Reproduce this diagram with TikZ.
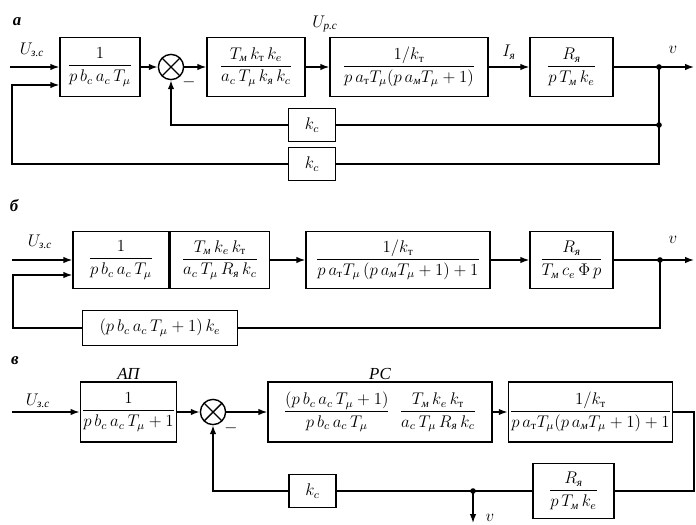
\documentclass[tikz,border=0pt]{standalone}
\usepackage{amsmath}
\usepackage{fontspec}
\newfontfamily\cyrfont{Liberation Serif}
\usetikzlibrary{arrows.meta,positioning}
\newcommand{\rus}[1]{\text{\cyrfont\itshape #1}}
\newcommand{\rut}{\text{\cyrfont т}}
\tikzset{
  blk/.style={draw,line width=1pt,minimum height=1.47cm,inner sep=1pt,font=\large},
  kbox/.style={draw,line width=1pt,minimum width=1.175cm,minimum height=0.82cm,
    inner sep=1pt,font=\large},
  sumc/.style={draw,circle,line width=1pt,minimum size=0.63cm,inner sep=0pt,
    path picture={\draw[line width=1pt]
      (path picture bounding box.north west)--(path picture bounding box.south east)
      (path picture bounding box.north east)--(path picture bounding box.south west);}},
  sig/.style={-{Latex[length=2.2mm,width=1.6mm]},line width=1pt},
  ln/.style={line width=1pt},
  lbl/.style={font=\large,inner sep=1pt},
  tag/.style={font=\large\bfseries,inner sep=1pt},
  dot/.style={circle,fill,inner sep=0pt,minimum size=4pt}
}
\begin{document}
\begin{tikzpicture}[x=0.025cm,y=-0.025cm]
  \useasboundingbox (0,0) rectangle (696,525);
  % a
  \node[tag] (ta) at (17,22) {\cyrfont\itshape а};
  \coordinate (ina) at (10,67);
  \node[blk,minimum width=2cm] (a1) at (100,67) {$\dfrac{1}{p\,b_c\,a_c\,T_\mu}$};
  \node[sumc] (sa) at (171,67) {};
  \node[blk,minimum width=2.45cm] (a2) at (256,67)
    {$\dfrac{T_{\rus{м}}\,k_{\rut}\,k_e}{a_c\,T_\mu\,k_{\rus{я}}\,k_c}$};
  \node[blk,minimum width=3.95cm] (a3) at (409,67)
    {$\dfrac{1/k_{\rut}}{p\,a_{\rut}T_\mu(p\,a_{\rus{м}}T_\mu+1)}$};
  \node[blk,minimum width=2.075cm] (a4) at (571.5,67)
    {$\dfrac{R_{\rus{я}}}{p\,T_{\rus{м}}\,k_e}$};
  \coordinate (va) at (659,67);
  \coordinate (outa) at (694,67);
  \node[kbox] (ka1) at (312,125) {$k_c$};
  \node[kbox] (ka2) at (312,164) {$k_c$};
  \coordinate (fa) at (12,85);
  \node[lbl] (ua) at (32,50) {$U_{\rus{з.с}}$};
  \node[lbl] (ura) at (325,24) {$U_{\rus{р.с}}$};
  \node[lbl] (ma) at (189,82) {$-$};
  \node[lbl] (oa) at (673,50) {$v$};
  \draw[sig] (ina) -- (a1);
  \draw[sig] (a1) -- (sa);
  \draw[sig] (sa) -- (a2);
  \draw[sig] (a2) -- (a3);
  \draw[sig] (a3) -- node[lbl,above=4pt]{$I_{\rus{я}}$} (a4);
  \draw[sig] (a4) -- (outa);
  \draw[ln] (va) |- (ka2);
  \draw[ln] (va |- ka1) -- (ka1);
  \draw[sig] (ka1) -| (sa.south);
  \draw[sig] (ka2) -| (fa) -- (fa -| a1.west);
  \node[dot] at (va) {};
  \node[dot] at (va |- ka1) {};
  % b
  \node[tag] (tb) at (14,206) {\cyrfont\itshape б};
  \coordinate (inb) at (12,260);
  \node[blk,minimum width=2.4cm,minimum height=1.425cm] (b1) at (121,260)
    {$\dfrac{1}{p\,b_c\,a_c\,T_\mu}$};
  \node[blk,minimum width=2.475cm,minimum height=1.425cm,right=0pt of b1] (b2)
    {$\dfrac{T_{\rus{м}}\,k_e\,k_{\rut}}{a_c\,T_\mu\,R_{\rus{я}}\,k_c}$};
  \node[blk,minimum width=4.6cm,minimum height=1.425cm] (b3) at (398,260)
    {$\dfrac{1/k_{\rut}}{p\,a_{\rut}T_\mu\,(p\,a_{\rus{м}}T_\mu+1)+1}$};
  \node[blk,minimum width=2.075cm,minimum height=1.425cm] (b4) at (571.5,260)
    {$\dfrac{R_{\rus{я}}}{T_{\rus{м}}\,c_e\,\Phi\,p}$};
  \coordinate (vb) at (660,260);
  \coordinate (outb) at (694,260);
  \node[kbox,minimum width=3.875cm,minimum height=0.875cm] (bf) at (160,328)
    {$(p\,b_c\,a_c\,T_\mu+1)\,k_e$};
  \coordinate (fb) at (13,275);
  \node[lbl] (ub) at (40,242) {$U_{\rus{з.с}}$};
  \node[lbl] (ob) at (673,240) {$v$};
  \draw[sig] (inb) -- (b1);
  \draw[sig] (b2) -- (b3);
  \draw[sig] (b3) -- (b4);
  \draw[sig] (b4) -- (outb);
  \draw[ln] (vb) |- (bf);
  \draw[sig] (bf) -| (fb) -- (fb -| b1.west);
  \node[dot] at (vb) {};
  % v
  \node[tag] (tc) at (15,361) {\cyrfont\itshape в};
  \coordinate (inc) at (12,412);
  \node[blk,minimum width=2.125cm,minimum height=1.5cm] (c1) at (128.5,412)
    {$\dfrac{1}{p\,b_c\,a_c\,T_\mu+1}$};
  \node[sumc] (sc) at (213,412) {};
  \node[blk,minimum width=5.6cm,minimum height=1.5cm] (c2) at (380,412)
    {$\dfrac{(p\,b_c\,a_c\,T_\mu+1)}{p\,b_c\,a_c\,T_\mu}\;\;
      \dfrac{T_{\rus{м}}\,k_e\,k_{\rut}}{a_c\,T_\mu\,R_{\rus{я}}\,k_c}$};
  \node[blk,minimum width=3.825cm,minimum height=1.5cm] (c3) at (590.5,412)
    {$\dfrac{1/k_{\rut}}{p\,a_{\rut}T_\mu(p\,a_{\rus{м}}T_\mu+1)+1}$};
  \coordinate (cr) at (694,412);
  \node[blk,minimum width=2.025cm,minimum height=1.375cm] (c4) at (573.5,491)
    {$\dfrac{R_{\rus{я}}}{p\,T_{\rus{м}}\,k_e}$};
  \node[kbox] (kc) at (312.5,491) {$k_c$};
  \coordinate (vc) at (473,491);
  \coordinate (vce) at (473,523);
  \node[lbl,above=0pt of c1] (ap) {\cyrfont\itshape АП};
  \node[lbl,above=0pt of c2] (pc) {\cyrfont\itshape РС};
  \node[lbl] (uc) at (38,401) {$U_{\rus{з.с}}$};
  \node[lbl] (mc) at (231,428) {$-$};
  \node[lbl] (oc) at (490,518) {$v$};
  \draw[sig] (inc) -- (c1);
  \draw[sig] (c1) -- (sc);
  \draw[sig] (sc) -- (c2);
  \draw[sig] (c2) -- (c3);
  \draw[ln] (c3) -- (cr) |- (c4);
  \draw[ln] (c4) -- (kc);
  \draw[sig] (kc) -| (sc.south);
  \draw[sig] (vc) -- (vce);
  \node[dot] at (vc) {};
\end{tikzpicture}
\end{document}
